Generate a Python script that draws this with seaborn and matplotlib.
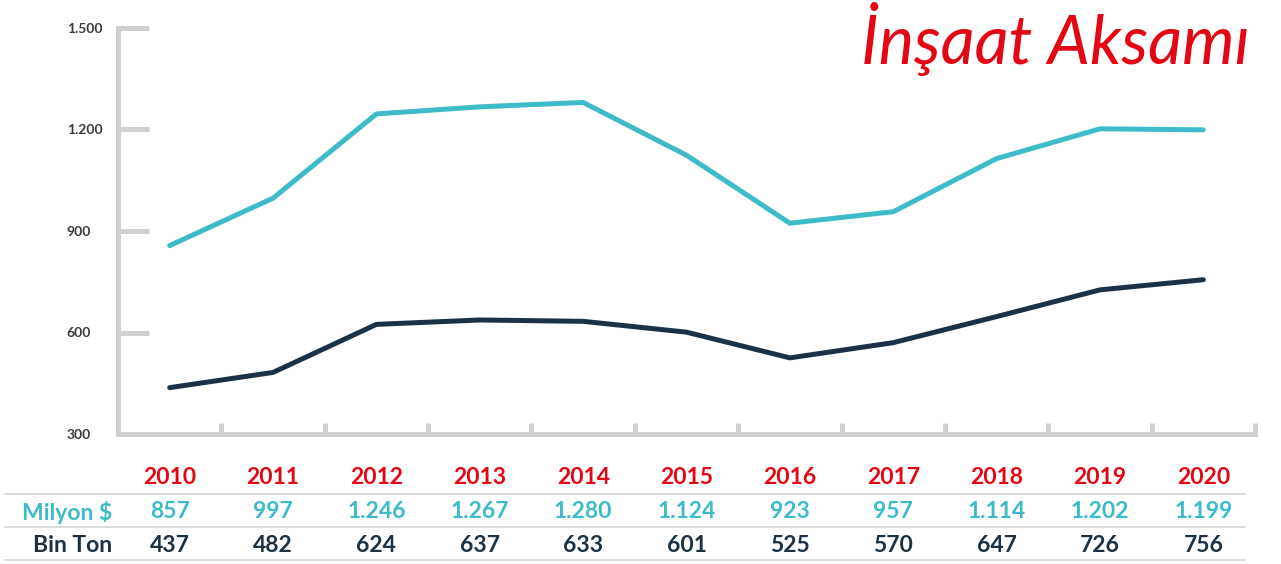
import numpy as np
import pandas as pd
import seaborn as sns
import matplotlib.pyplot as plt
import matplotlib.transforms as mtransforms

# chart data
years = [2010, 2011, 2012, 2013, 2014, 2015, 2016, 2017, 2018, 2019, 2020]
milyon_usd = [857, 997, 1246, 1267, 1280, 1124, 923, 957, 1114, 1202, 1199]
bin_ton = [437, 482, 624, 637, 633, 601, 525, 570, 647, 726, 756]
y_ticks = [300, 600, 900, 1200, 1500]

teal = "#3DBBC9"
navy = "#1B3246"
red = "#E30613"
gray = "#D0D0D0"


def tr_fmt(v):
    # turkish thousands separator
    return f"{v:,}".replace(",", ".")


sns.set_style("white")
plt.rcParams['font.family'] = ['Lato', 'DejaVu Sans']

df = pd.DataFrame({"year": years, "Milyon $": milyon_usd, "Bin Ton": bin_ton})
df_long = df.melt(id_vars="year", var_name="seri", value_name="deger")

fig = plt.figure(figsize=(12.81, 5.64), dpi=100)
ax = fig.add_axes([118 / 1281, 1 - 434 / 564, (1255 - 118) / 1281, (434 - 28) / 564])

sns.lineplot(data=df_long, x="year", y="deger", hue="seri",
             palette={"Milyon $": teal, "Bin Ton": navy},
             linewidth=3.6, legend=False, ax=ax)

ax.set_xlim(2009.5, 2020.5)
ax.set_ylim(300, 1500)
ax.set_xlabel("")
ax.set_ylabel("")

# axes styling
for s in ["top", "right"]:
    ax.spines[s].set_visible(False)
for s in ["left", "bottom"]:
    ax.spines[s].set_color(gray)
    ax.spines[s].set_linewidth(3.6)

ax.set_yticks(y_ticks)
ax.set_yticklabels([tr_fmt(v) for v in y_ticks])
ax.tick_params(axis="y", left=True, direction="in", length=22, width=3.6, color=gray,
               pad=37, labelsize=10, labelcolor="#3A3A3A")
for lbl in ax.get_yticklabels():
    lbl.set_horizontalalignment("left")
    lbl.set_fontweight("bold")

ax.set_xticks([y + 0.5 for y in years])
ax.set_xticklabels([])
ax.tick_params(axis="x", bottom=True, direction="in", length=8, width=3.6, color=gray)

# table below the chart
trans = mtransforms.blended_transform_factory(ax.transData, fig.transFigure)
row_y = [1 - 478 / 564, 1 - 512 / 564, 1 - 546 / 564]
fs = 16.5
for i, yr in enumerate(years):
    ax.text(yr, row_y[0], str(yr), transform=trans, ha="center", va="center",
            fontsize=fs, fontweight="bold", color=red)
    ax.text(yr, row_y[1], tr_fmt(milyon_usd[i]), transform=trans, ha="center",
            va="center", fontsize=fs, fontweight="bold", color=teal)
    ax.text(yr, row_y[2], tr_fmt(bin_ton[i]), transform=trans, ha="center",
            va="center", fontsize=fs, fontweight="bold", color=navy)

fig.text(112 / 1281, row_y[1], "Milyon $", ha="right", va="center",
         fontsize=fs, fontweight="bold", color=teal)
fig.text(112 / 1281, row_y[2], "Bin Ton", ha="right", va="center",
         fontsize=fs, fontweight="bold", color=navy)

for ly in [494, 527, 560]:
    fig.add_artist(plt.Line2D([5 / 1281, 1245 / 1281], [1 - ly / 564] * 2,
                              color="#D9D9D9", linewidth=1.3))

# title
fig.text(1250 / 1281, 1 - 64 / 564, "İnşaat Aksamı", ha="right", va="baseline",
         fontsize=48, fontstyle="italic", color=red)

fig.savefig("out.png", dpi=100)
